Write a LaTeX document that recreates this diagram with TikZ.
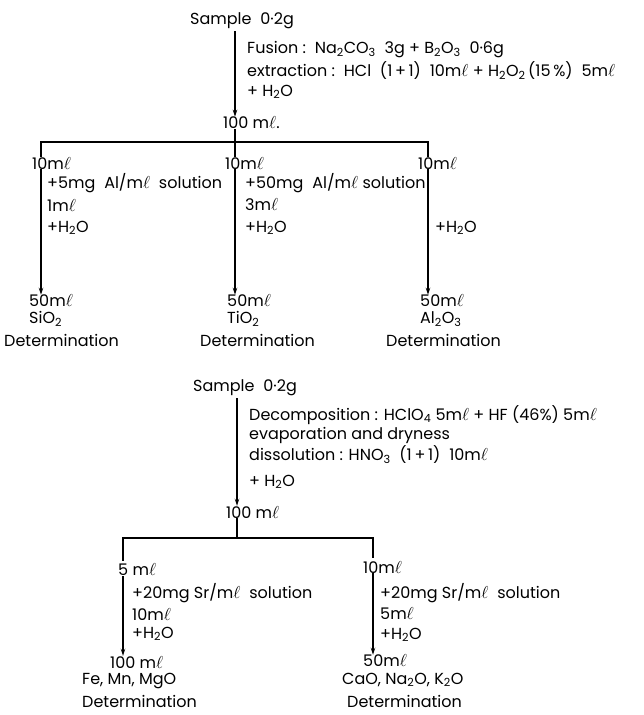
\documentclass[tikz,border=0pt]{standalone}
\usepackage{fontspec}
\setmainfont{Poppins}
\usetikzlibrary{arrows.meta}
\newcommand\sbs[1]{\textsubscript{#1}}
\newcommand\mL{m$\ell$}
\newcommand\wsp{\hspace{0.55em}}
\begin{document}
\begin{tikzpicture}[x=1pt,y=-1pt,
  txt/.style={anchor=west,inner sep=0pt,font=\fontsize{16}{18}\selectfont},
  ln/.style={line width=1.2pt},
  arr/.style={line width=1.2pt,-{Stealth[length=7pt,width=4.5pt]}}]
\useasboundingbox[fill=white] (0,0) rectangle (644,715);
% ---------- top procedure ----------
\coordinate (c1) at (235,0);
\node[txt] (s1) at (190,21) {Sample\wsp 0·2g};
\node[txt] (f1) at (247,50) {Fusion :\wsp Na\sbs{2}CO\sbs{3}\wsp 3g + B\sbs{2}O\sbs{3}\wsp 0·6g};
\node[txt] (e1) at (247,71) {extraction :\wsp HCl\wsp(1\,+\,1)\wsp10\mL{} + H\sbs{2}O\sbs{2}\,(15\,\%)\wsp5\mL};
\node[txt] (w1) at (247,92) {+ H\sbs{2}O};
\node[txt] (v1) at (223,123) {100 \mL.};
\draw[arr,shorten <=2pt] (s1.south -| c1) -- (v1.north -| c1);
\coordinate (bl) at (41,142);
\coordinate (bm) at (235,142);
\coordinate (br) at (428,142);
\node[txt] (m1L) at (32,163) {10\mL};
\node[txt] (m1M) at (225,163) {10\mL};
\node[txt] (m1R) at (418,163) {10\mL};
\draw[ln] (v1.south -| c1) -- (m1M.north -| c1);
\draw[ln] (m1L.north -| bl) -- (bl) -- (br) -- (m1R.north -| br);
\node[txt] (aL1) at (47,183) {+5mg\wsp Al/\mL\wsp solution};
\node[txt] (aL2) at (47,205) {1\mL};
\node[txt] (aL3) at (47,228) {+H\sbs{2}O};
\node[txt] (aM1) at (245,183) {+50mg\wsp Al/\mL{} solution};
\node[txt] (aM2) at (245,205) {3\mL};
\node[txt] (aM3) at (245,228) {+H\sbs{2}O};
\node[txt] (aR3) at (435,228) {+H\sbs{2}O};
\node[txt] (rL1) at (29,301) {50\mL};
\node[txt] (rL2) at (29,319) {SiO\sbs{2}};
\node[txt] (rL3) at (4,340) {Determination};
\node[txt] (rM1) at (227,301) {50\mL};
\node[txt] (rM2) at (227,319) {TiO\sbs{2}};
\node[txt] (rM3) at (200,340) {Determination};
\node[txt] (rR1) at (420,301) {50\mL};
\node[txt] (rR2) at (420,319) {Al\sbs{2}O\sbs{3}};
\node[txt] (rR3) at (386,340) {Determination};
\draw[arr] (m1L.south -| bl) -- (rL1.north -| bl);
\draw[arr] (m1M.south -| bm) -- (rM1.north -| bm);
\draw[arr] (m1R.south -| br) -- (rR1.north -| br);
% ---------- bottom procedure ----------
\coordinate (c2) at (237,0);
\node[txt] (s2) at (193,388) {Sample\wsp 0·2g};
\node[txt] (d2) at (249,415) {Decomposition : HClO\sbs{4} 5\mL{} + HF (46\%) 5\mL};
\node[txt] (ev) at (249,435) {evaporation and dryness};
\node[txt] (ds) at (249,455) {dissolution : HNO\sbs{3}\wsp(1\,+\,1)\wsp10\mL};
\node[txt] (w2) at (249,482) {+ H\sbs{2}O};
\node[txt] (v2) at (226,512) {100 \mL};
\draw[arr,shorten <=2pt] (s2.south -| c2) -- (v2.north -| c2);
\coordinate (ql) at (123,538);
\coordinate (qm) at (237,538);
\coordinate (qr) at (373,538);
\node[txt] (n2L) at (118,570) {5 \mL};
\node[txt] (n2R) at (363,567) {10\mL};
\draw[ln] (v2.south -| c2) -- (qm);
\draw[ln,shorten <=3pt,shorten >=3pt] (n2L.north -| ql) -- (ql) -- (qr) -- (n2R.north -| qr);
\node[txt] (bL1) at (132,593) {+20mg Sr/\mL\wsp solution};
\node[txt] (bL2) at (132,614) {10\mL};
\node[txt] (bL3) at (132,634) {+H\sbs{2}O};
\node[txt] (bR1) at (380,593) {+20mg Sr/\mL\wsp solution};
\node[txt] (bR2) at (380,614) {5\mL};
\node[txt] (bR3) at (380,635) {+H\sbs{2}O};
\node[txt] (oL1) at (110,662) {100 \mL};
\node[txt] (oL2) at (82,681) {Fe, Mn, MgO};
\node[txt] (oL3) at (82,701) {Determination};
\node[txt] (oR1) at (363,661) {50\mL};
\node[txt] (oR2) at (342,680) {CaO, Na\sbs{2}O, K\sbs{2}O};
\node[txt] (oR3) at (347,701) {Determination};
\draw[arr] (n2L.south -| ql) -- (oL1.north -| ql);
\draw[arr] (n2R.south -| qr) -- (oR1.north -| qr);
\end{tikzpicture}
\end{document}
